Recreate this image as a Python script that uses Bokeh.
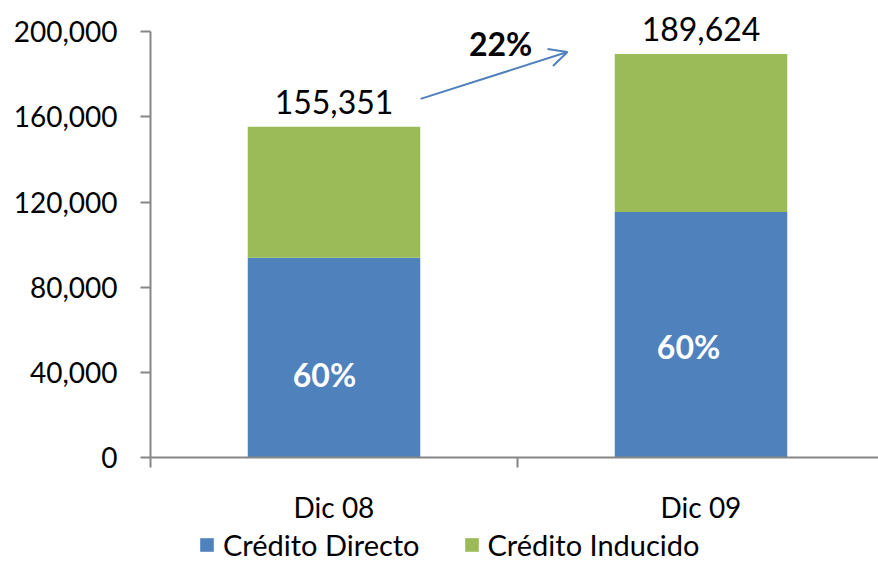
from bokeh.plotting import figure
from bokeh.layouts import column
from bokeh.models import (Range1d, FixedTicker, Legend, LegendItem, Arrow, OpenHead,
                          Label, LabelSet, ColumnDataSource, NumeralTickFormatter)
from bokeh.core.properties import value
from bokeh.embed import file_html
from bokeh.resources import INLINE

categories = ["Dic 08", "Dic 09"]
totals = [155351, 189624]
directo = [93800, 115300]
inducido = [61551, 74324]
share_labels = ["60%", "60%"]
growth_label = "22%"
series_names = ["Crédito Directo", "Crédito Inducido"]
y_ticks = [0, 40000, 80000, 120000, 160000, 200000]

BLUE = "#4F81BD"
GREEN = "#9BBB59"
AXIS = "#868686"
FONT = "Lato"

xs = [i + 0.5 for i in range(len(categories))]
src = ColumnDataSource(dict(x=xs, directo=directo, inducido=inducido, total=totals,
                            total_lbl=[f"{t:,}" for t in totals]))

X_END = 728 / 367
p = figure(width=878, height=526, output_backend="svg", toolbar_location=None,
           x_range=Range1d(0, X_END), y_range=Range1d(0, 200000 * 460 / 428.5),
           min_border_left=150, min_border_right=0, min_border_top=0, min_border_bottom=66)
p.outline_line_color = None
p.grid.visible = False
p.background_fill_color = "white"

rs = p.vbar_stack(["directo", "inducido"], x="x", width=0.47, color=[BLUE, GREEN],
                  line_color=None, source=src)

# value labels
p.add_layout(LabelSet(x="x", y="total", text="total_lbl", source=src, text_align="center",
                      text_baseline="alphabetic", y_offset=13, text_font=value(FONT),
                      text_font_size=value("32px"), text_color=value("black")))

# percent labels
pct_pos = [(0.474, 39200), (1.466, 52300)]
for (px, py), lbl in zip(pct_pos, share_labels):
    p.add_layout(Label(x=px, y=py, text=lbl, text_align="center",
                       text_baseline="middle", text_font=FONT, text_font_size="32px",
                       text_font_style="bold", text_color="white"))

p.add_layout(Label(x=0.954, y=194600, text=growth_label, text_align="center",
                   text_baseline="middle", text_font=FONT, text_font_size="32px",
                   text_font_style="bold", text_color="black"))
p.add_layout(Arrow(x_start=0.736, y_start=168500, x_end=1.136, y_end=190500,
                   line_color=BLUE, line_width=2,
                   end=OpenHead(size=18, line_color=BLUE, line_width=2)))

# axes
ya = p.yaxis[0]
ya.ticker = FixedTicker(ticks=y_ticks)
ya.formatter = NumeralTickFormatter(format="0,0")
ya.bounds = (0, 200000)
ya.axis_line_color = AXIS
ya.axis_line_width = 2
ya.major_tick_line_color = AXIS
ya.major_tick_line_width = 2
ya.major_tick_out = 10
ya.major_tick_in = 0
ya.minor_tick_line_color = None
ya.major_label_standoff = 23
ya.major_label_text_font = FONT
ya.major_label_text_font_size = "28px"
ya.major_label_text_color = "black"

xa = p.xaxis[0]
xa.ticker = FixedTicker(ticks=xs, minor_ticks=[0, 1, 2])
xa.major_label_overrides = {x: c for x, c in zip(xs, categories)}
xa.axis_line_color = AXIS
xa.axis_line_width = 2
xa.major_tick_line_color = None
xa.major_tick_out = 0
xa.major_tick_in = 0
xa.minor_tick_line_color = AXIS
xa.minor_tick_line_width = 2
xa.minor_tick_out = 10
xa.minor_tick_in = 0
xa.major_label_standoff = 22
xa.major_label_text_font = FONT
xa.major_label_text_font_size = "28px"
xa.major_label_text_color = "black"

# legend strip below the chart (zero-width bars that serve only as legend swatches)
pl = figure(width=878, height=36, output_backend="svg", toolbar_location=None,
            x_axis_type=None, y_axis_type=None, x_range=Range1d(0, X_END),
            y_range=Range1d(-100000, -90000), min_border=0)
pl.outline_line_color = None
pl.grid.visible = False
pl.border_fill_color = "white"
pl.background_fill_color = "white"
lr = pl.vbar_stack(["directo", "inducido"], x="x", width=0, color=[BLUE, GREEN],
                   line_color=None, source=src)
legend = Legend(items=[LegendItem(label=n, renderers=[r]) for n, r in zip(series_names, lr)],
                orientation="horizontal", location=(48, 0), padding=0, margin=0,
                glyph_width=17, glyph_height=17, label_standoff=8, spacing=43,
                border_line_color=None, background_fill_alpha=0,
                label_text_font=FONT, label_text_font_size="29px", label_text_color="black")
pl.add_layout(legend)

open("out.html", "w").write(file_html(column(p, pl, spacing=0), INLINE))
